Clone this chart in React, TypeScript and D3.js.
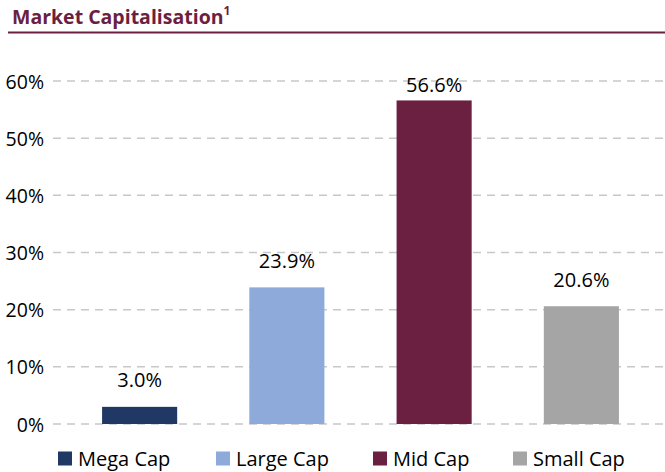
import React from "react";
import * as d3 from "d3";

const categories = ["Mega Cap", "Large Cap", "Mid Cap", "Small Cap"];
const values = [3.0, 23.9, 56.6, 20.6];
const colors = ["#1f3864", "#8eaadb", "#6b2042", "#a5a5a5"];
const yTicks = [0, 10, 20, 30, 40, 50, 60];

const W = 665;
const H = 472;
const FONT = "'Open Sans', 'Noto Sans', sans-serif";

export default function App() {
  const x = d3.scaleBand<string>().domain(categories).range([66, 655]).paddingInner(0.49).paddingOuter(0.245);
  const y = d3.scaleLinear().domain([0, 60]).range([424, 81]);
  const legendX = [58, 216, 373, 513];
  const labelTopLimit = 92;

  return (
    <div style={{ position: "absolute", left: 0, top: 0 }}>
      <svg width={W} height={H} style={{ display: "block", background: "#fff" }}>
        <text x={12} y={24} fontFamily={FONT} fontWeight="bold" fontSize={19.5} fill="#6b2042">
          Market Capitalisation
          <tspan fontSize={12} dy={-9}>1</tspan>
        </text>
        <line x1={8} x2={665} y1={32.5} y2={32.5} stroke="#6b2042" strokeWidth={2} />
        {yTicks.map((t) => (
          <g key={t}>
            <line x1={53} x2={665} y1={y(t)} y2={y(t)} stroke="#c8c8c8" strokeWidth={1.5} strokeDasharray="8,6" />
            <text x={44} y={y(t) + 7.5} textAnchor="end" fontFamily={FONT} fontSize={19.5} fill="#000">
              {t}%
            </text>
          </g>
        ))}
        {categories.map((c, i) => (
          <g key={c}>
            <rect x={x(c)} y={y(values[i])} width={x.bandwidth()} height={y(0) - y(values[i])} fill={colors[i]} />
            <text
              x={(x(c) as number) + x.bandwidth() / 2}
              y={Math.max(y(values[i]) - 19.5, labelTopLimit)}
              textAnchor="middle"
              fontFamily={FONT}
              fontSize={20}
              fill="#000"
            >
              {values[i].toFixed(1)}%
            </text>
          </g>
        ))}
        {categories.map((c, i) => (
          <g key={"l" + c}>
            <rect x={legendX[i]} y={451.5} width={14} height={14} fill={colors[i]} />
            <text x={legendX[i] + 20} y={465.5} fontFamily={FONT} fontSize={20} fill="#000">
              {c}
            </text>
          </g>
        ))}
      </svg>
    </div>
  );
}
